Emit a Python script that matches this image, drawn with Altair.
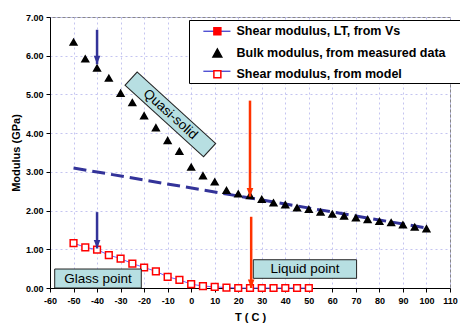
import altair as alt
import pandas as pd

# ---- data ----
bulk_T = list(range(-50, 101, 5))
bulk_G = [6.35, 5.92, 5.68, 5.42, 5.03, 4.79, 4.45, 4.14, 3.81, 3.53,
          3.12, 2.90, 2.74, 2.52, 2.43, 2.39, 2.29, 2.20, 2.15, 2.07, 2.03,
          1.96, 1.91, 1.86, 1.81, 1.77, 1.72, 1.69, 1.63, 1.57, 1.53]
model_T = list(range(-50, 51, 5))
model_G = [1.16, 1.05, 0.99, 0.85, 0.76, 0.63, 0.53, 0.43, 0.29, 0.21,
           0.10, 0.05, 0.03, 0.01, 0.00, 0.00, 0.00, 0.00, 0.00, 0.00, 0.00]
trend_T = [-50, 100]
trend_G = [3.10, 1.55]
series_names = ["Shear modulus, LT, from Vs",
                "Bulk modulus, from measured data",
                "Shear modulus, from model"]
x_ticks = list(range(-60, 111, 10))
y_ticks = [0, 1, 2, 3, 4, 5, 6, 7]

# annotations
arrow_T = [-40, -40, 25, 25.5]
arrow_top = [6.67, 1.96, 4.84, 1.84]
arrow_tip = [5.78, 1.02, 2.36, 0.0]
arrow_col = ["#333399", "#333399", "#ff3300", "#ff3300"]

box_labels = ["Glass point", "Liquid point"]
box_x1 = [-58, 26.4]
box_x2 = [-21.2, 70.3]
box_y1 = [0.0, 0.25]
box_y2 = [0.49, 0.73]

quasi_label = "Quasi-solid"
quasi_T = [-25.7, 8.0]
quasi_G = [5.42, 3.55]

FONT = "Liberation Sans"
xs = alt.Scale(domain=[-60, 110], nice=False, zero=False)
ys = alt.Scale(domain=[0, 7], nice=False)
x_axis = alt.Axis(values=x_ticks, labelOverlap=False, labelFlush=False,
                  labelExpr="datum.value < 0 ? '-' + format(-datum.value, 'd') : format(datum.value, 'd')")
y_axis = alt.Axis(values=y_ticks, format=".2f", labelOverlap=False, labelFlush=False)


def X(field):
    return alt.X(field, scale=xs, title="T ( C )", axis=x_axis)


def Y(field):
    return alt.Y(field, scale=ys, title="Modulus (GPa)", axis=y_axis)


pts = pd.DataFrame({
    "T": bulk_T + model_T,
    "G": bulk_G + model_G,
    "series": [series_names[1]] * len(bulk_T) + [series_names[2]] * len(model_T),
})
legend_df = pd.DataFrame({"T": [-1000] * 3, "G": [-1000] * 3, "series": series_names})
model_df = pd.DataFrame({"T": model_T, "G": model_G})
trend_df = pd.DataFrame({"T": trend_T, "G": trend_G})
arrows = pd.DataFrame({"T": arrow_T, "top": arrow_top, "tip": arrow_tip, "col": arrow_col})
boxes = pd.DataFrame({"label": box_labels, "x1": box_x1, "x2": box_x2, "y1": box_y1, "y2": box_y2,
                      "xm": [(a + b) / 2 for a, b in zip(box_x1, box_x2)],
                      "ym": [(a + b) / 2 for a, b in zip(box_y1, box_y2)]})
quasi = pd.DataFrame({"T": [quasi_T[0]], "T2": [quasi_T[1]], "G": [quasi_G[0]], "G2": [quasi_G[1]]})
quasi_in = pd.DataFrame({"T": [quasi_T[0] + 0.35], "T2": [quasi_T[1] - 0.35],
                         "G": [quasi_G[0] - 0.02], "G2": [quasi_G[1] + 0.02]})
quasi_txt = pd.DataFrame({"T": [(quasi_T[0] + quasi_T[1]) / 2], "G": [(quasi_G[0] + quasi_G[1]) / 2],
                          "label": [quasi_label]})

trend = alt.Chart(trend_df).mark_line(color="#333399", strokeWidth=3, strokeDash=[13, 6]).encode(
    x=X("T:Q"), y=Y("G:Q"))
model_line = alt.Chart(model_df).mark_line(color="#6666ff", strokeWidth=1).encode(
    x=X("T:Q"), y=Y("G:Q"))

# data points (no legend of their own)
points = alt.Chart(pts).mark_point(opacity=1, strokeWidth=1.5, size=45).encode(
    x=X("T:Q"), y=Y("G:Q"),
    shape=alt.Shape("series:N", scale=alt.Scale(domain=series_names,
                                                range=["square", "triangle-up", "square"]), legend=None),
    fill=alt.Fill("series:N", scale=alt.Scale(domain=series_names,
                                              range=["#ff0000", "#000000", "#ffffff"]), legend=None),
    stroke=alt.Stroke("series:N", scale=alt.Scale(domain=series_names,
                                                  range=["#ff0000", "#000000", "#ff0000"]), legend=None),
)

# legend: background layer (box + blue connecting lines, no labels), foreground (symbols + labels)
LEG_X, LEG_Y = 139, 3
PAD, ROWPAD = 5, 7
line_path = "M0.8,0H7.8"
sq_path = "M3.52,-0.9H5.32V0.9H3.52Z"
tri_path = "M4.42,-1.1L5.55,0.95H3.29Z"
leg_back = alt.Legend(title=None, orient="none", legendX=LEG_X, legendY=LEG_Y, padding=PAD,
                      strokeColor="#000000", fillColor="#ffffff",
                      labelExpr="''", labelFontSize=12.5, labelOffset=249,
                      symbolSize=60, rowPadding=ROWPAD, symbolStrokeWidth=1.2)
leg_front = alt.Legend(title=None, orient="none", legendX=LEG_X, legendY=LEG_Y, padding=PAD,
                       labelFont=FONT, labelFontSize=12.5, labelFontWeight="bold", labelColor="#000000",
                       symbolSize=60, rowPadding=ROWPAD, labelOffset=30, symbolStrokeWidth=1.5,
                       labelLimit=400)

legend_back = alt.Chart(legend_df).mark_point(opacity=1, clip=True, strokeWidth=1.2, size=60).encode(
    x=X("T:Q"), y=Y("G:Q"),
    shape=alt.Shape("series:N", scale=alt.Scale(domain=series_names,
                                                range=[line_path, "M0,0", line_path]), legend=leg_back),
    stroke=alt.Stroke("series:N", scale=alt.Scale(domain=series_names,
                                                  range=["#3333cc", "transparent", "#3333cc"]), legend=leg_back),
    fill=alt.Fill("series:N", scale=alt.Scale(domain=series_names,
                                              range=["transparent", "transparent", "transparent"]), legend=leg_back),
)
legend_front = alt.Chart(legend_df).mark_point(opacity=1, clip=True, strokeWidth=1.5, size=60).encode(
    x=X("T:Q"), y=Y("G:Q"),
    shape=alt.Shape("series:N", scale=alt.Scale(domain=series_names,
                                                range=[sq_path, tri_path, sq_path]), legend=leg_front),
    fill=alt.Fill("series:N", scale=alt.Scale(domain=series_names,
                                              range=["#ff0000", "#000000", "#ffffff"]), legend=leg_front),
    stroke=alt.Stroke("series:N", scale=alt.Scale(domain=series_names,
                                                  range=["#ff0000", "#000000", "#ff0000"]), legend=leg_front),
)

box_rect = alt.Chart(boxes).mark_rect(fill="#b7dfe2", stroke="#222222", strokeWidth=1).encode(
    x=X("x1:Q"), x2="x2:Q", y=Y("y1:Q"), y2="y2:Q")
box_text = alt.Chart(boxes).mark_text(font=FONT, fontSize=13.5, color="#000000").encode(
    x=X("xm:Q"), y=Y("ym:Q"), text="label:N")

q_outer = alt.Chart(quasi).mark_rule(color="#222222", strokeWidth=19, strokeCap="butt").encode(
    x=X("T:Q"), x2="T2:Q", y=Y("G:Q"), y2="G2:Q")
q_inner = alt.Chart(quasi_in).mark_rule(color="#b7dfe2", strokeWidth=17, strokeCap="butt").encode(
    x=X("T:Q"), x2="T2:Q", y=Y("G:Q"), y2="G2:Q")
q_text = alt.Chart(quasi_txt).mark_text(font=FONT, fontSize=13.5, color="#000000", angle=42).encode(
    x=X("T:Q"), y=Y("G:Q"), text="label:N")

arrow_shaft = alt.Chart(arrows).mark_rule(strokeWidth=2.5).encode(
    x=X("T:Q"), y=Y("top:Q"), y2="tip:Q",
    color=alt.Color("col:N", scale=None))
arrow_head = alt.Chart(arrows).mark_point(shape="M-0.85,-2.2L0.85,-2.2L0,0Z", filled=True, opacity=1,
                                          size=60).encode(
    x=X("T:Q"), y=Y("tip:Q"),
    color=alt.Color("col:N", scale=None))

chart = alt.layer(
    trend, model_line, points, q_outer, q_inner, q_text, box_rect, box_text, arrow_shaft, arrow_head,
    legend_back, legend_front
).resolve_scale(color="independent", shape="independent", fill="independent",
                stroke="independent").properties(
    width=400, height=271,
    autosize=alt.AutoSizeParams(type="none"),
    padding={"left": 50, "top": 17, "right": 10, "bottom": 35},
).configure_view(stroke="#888888", strokeWidth=1).configure_axis(
    labelFont=FONT, labelFontSize=9, labelFontWeight="bold", labelColor="#000000",
    titleFont=FONT, titleFontSize=11, titleFontWeight="bold", titleColor="#000000",
    domainColor="#000000", tickColor="#000000", tickSize=4,
    gridColor="#c4c4f0", gridDash=[2, 3], gridWidth=1,
).configure_axisY(labelPadding=3, titlePadding=4).configure_axisX(labelPadding=4, titlePadding=6)

chart.save("out.html", embed_options={"renderer": "svg", "actions": False})
